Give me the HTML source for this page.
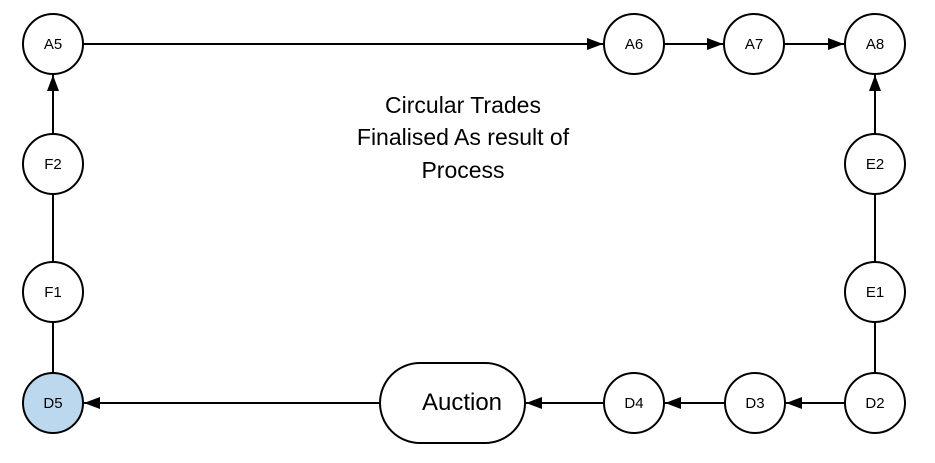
<!DOCTYPE html>
<html><head><style>body{margin:0;background:#fff}</style></head><body>
<svg width="935" height="458" xmlns="http://www.w3.org/2000/svg" font-family="Liberation Sans, sans-serif">
<defs><marker id="a" markerWidth="16" markerHeight="12" refX="16" refY="6" orient="auto" markerUnits="userSpaceOnUse"><path d="M0,0L16,6L0,12z" fill="#000"/></marker></defs>
<g stroke="#000" stroke-width="2" fill="none">
<line x1="84" y1="44" x2="603" y2="44" marker-end="url(#a)"/>
<line x1="665" y1="44" x2="723" y2="44" marker-end="url(#a)"/>
<line x1="785" y1="44" x2="844" y2="44" marker-end="url(#a)"/>
<line x1="53" y1="134" x2="53" y2="75" marker-end="url(#a)"/>
<line x1="53" y1="262" x2="53" y2="194"/>
<line x1="53" y1="373" x2="53" y2="322"/>
<line x1="875" y1="134" x2="875" y2="75" marker-end="url(#a)"/>
<line x1="875" y1="262" x2="875" y2="194"/>
<line x1="875" y1="373" x2="875" y2="322"/>
<line x1="845" y1="403" x2="786" y2="403" marker-end="url(#a)"/>
<line x1="725" y1="403" x2="665" y2="403" marker-end="url(#a)"/>
<line x1="604" y1="403" x2="526" y2="403" marker-end="url(#a)"/>
<line x1="380" y1="403" x2="84" y2="403" marker-end="url(#a)"/>
<circle cx="53" cy="44" r="30" fill="#fff"/>
<circle cx="53" cy="164" r="30" fill="#fff"/>
<circle cx="53" cy="292" r="30" fill="#fff"/>
<circle cx="53" cy="403" r="30" fill="#bcd8ee"/>
<circle cx="634" cy="44" r="30" fill="#fff"/>
<circle cx="754" cy="44" r="30" fill="#fff"/>
<circle cx="875" cy="44" r="30" fill="#fff"/>
<circle cx="875" cy="164" r="30" fill="#fff"/>
<circle cx="875" cy="292" r="30" fill="#fff"/>
<circle cx="875" cy="403" r="30" fill="#fff"/>
<circle cx="755" cy="403" r="30" fill="#fff"/>
<circle cx="634" cy="403" r="30" fill="#fff"/>
<rect x="380" y="363" width="145" height="80" rx="40" fill="#fff"/>
</g>
<g font-size="15" text-anchor="middle" fill="#000">
<text x="53" y="49">A5</text><text x="53" y="169">F2</text><text x="53" y="297">F1</text><text x="53" y="408">D5</text>
<text x="634" y="49">A6</text><text x="754" y="49">A7</text><text x="875" y="49">A8</text>
<text x="875" y="169">E2</text><text x="875" y="297">E1</text><text x="875" y="408">D2</text>
<text x="755" y="408">D3</text><text x="634" y="408">D4</text>
<text x="462" y="410" font-size="24">Auction</text>
<text x="463" y="113" font-size="23">Circular Trades</text>
<text x="463" y="145" font-size="23">Finalised As result of</text>
<text x="463" y="178" font-size="23">Process</text>
</g>
</svg>
</body></html>
